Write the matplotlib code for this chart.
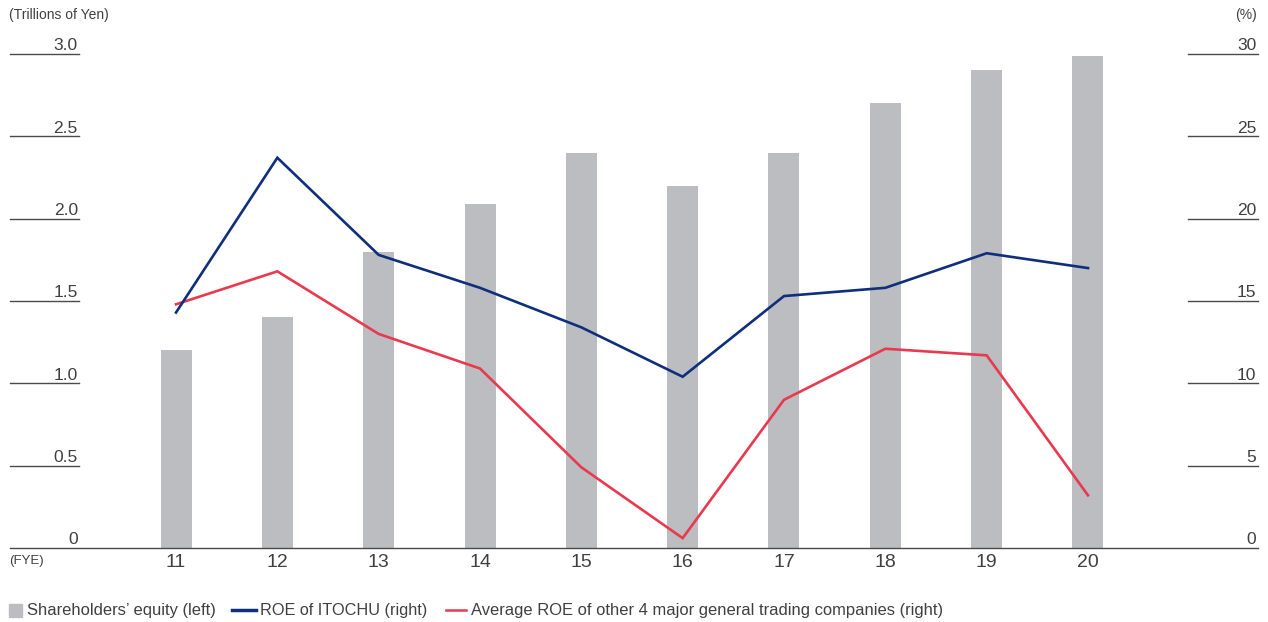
import matplotlib
matplotlib.use("Agg")
import matplotlib.pyplot as plt
from matplotlib.patches import Rectangle
from matplotlib.lines import Line2D

plt.rcParams['font.family'] = ['Liberation Sans', 'DejaVu Sans']

# ================= data =================
years = ["11", "12", "13", "14", "15", "16", "17", "18", "19", "20"]
equity = [1.20, 1.40, 1.80, 2.09, 2.40, 2.20, 2.40, 2.70, 2.90, 2.99]      # trillions of yen
roe_itochu = [14.3, 23.7, 17.8, 15.8, 13.4, 10.4, 15.3, 15.8, 17.9, 17.0]  # %
roe_others = [14.8, 16.8, 13.0, 10.9, 4.9, 0.6, 9.0, 12.1, 11.7, 3.2]      # %
left_ticks = [0, 0.5, 1.0, 1.5, 2.0, 2.5, 3.0]
left_labels = ["0", "0.5", "1.0", "1.5", "2.0", "2.5", "3.0"]
right_ticks = [0, 5, 10, 15, 20, 25, 30]
right_labels = ["0", "5", "10", "15", "20", "25", "30"]

# ================= style =================
W, H = 1268, 622
BAR_C = "#bcbdc1"
BLUE = "#0f2f7c"
RED = "#e8394f"
TXT = "#404040"
TICK_C = "#4a4a4a"


def fx(x):
    return x / W


def fy(y):
    return 1 - y / H


fig = plt.figure(figsize=(W / 100, H / 100), dpi=100)
ax = fig.add_axes([fx(10), fy(548), (1258 - 10) / W, (548 - 54) / H])
ax2 = ax.twinx()

xs = list(range(len(years)))
ax.bar(xs, equity, width=31 / 101.33, color=BAR_C, zorder=1)
ax2.plot(xs, roe_itochu, color=BLUE, lw=1.9, zorder=3, solid_joinstyle="miter")
ax2.plot(xs, roe_others, color=RED, lw=1.9, zorder=2, solid_joinstyle="miter")

ax.set_xlim(-166 / 101.33, 9 + 170 / 101.33)
ax.set_ylim(0, 3.0)
ax2.set_ylim(0, 30)
ax.set_zorder(0)
ax2.set_zorder(1)

for a in (ax, ax2):
    a.set_xticks([])
    a.set_yticks([])
    for s in a.spines.values():
        s.set_visible(False)
    a.patch.set_visible(False)

# baseline
ax.plot([0, 1], [0, 0], transform=ax.get_yaxis_transform(), color=TICK_C,
        lw=1.0, clip_on=False, zorder=4)

# left tick lines + labels
lx1 = (79 - 10) / 1248
for v, lab in zip(left_ticks, left_labels):
    if v > 0:
        ax.plot([0, lx1], [v, v], transform=ax.get_yaxis_transform(),
                color=TICK_C, lw=1.0, clip_on=False)
    ax.text(lx1 - 0.001, v + 0.004, lab, transform=ax.get_yaxis_transform(),
            ha="right", va="bottom", fontsize=12.5, color=TXT)

# right tick lines + labels
rx0 = (1188 - 10) / 1248
for v, lab in zip(right_ticks, right_labels):
    if v > 0:
        ax2.plot([rx0, 1], [v, v], transform=ax2.get_yaxis_transform(),
                 color=TICK_C, lw=1.0, clip_on=False)
    ax2.text(0.9985, v + 0.04, lab, transform=ax2.get_yaxis_transform(),
             ha="right", va="bottom", fontsize=12.5, color=TXT)

# x labels
for x, lab in zip(xs, years):
    ax.text(x, -0.012, lab, transform=ax.get_xaxis_transform(),
            ha="center", va="top", fontsize=14, color=TXT)

fig.text(fx(9), fy(15), "(Trillions of Yen)", ha="left", va="center",
         fontsize=10, color=TXT)
fig.text(fx(1257), fy(15), "(%)", ha="right", va="center",
         fontsize=10, color=TXT)
fig.text(fx(9), fy(561), "(FYE)", ha="left", va="center",
         fontsize=9.5, color=TXT)

# legend (drawn manually)
ly = 610
fig.patches.append(Rectangle((fx(9), fy(617)), 13 / W, 13 / H,
                             transform=fig.transFigure, color=BAR_C))
fig.text(fx(27), fy(ly), "Shareholders\u2019 equity (left)", ha="left",
         va="center", fontsize=11.9, color=TXT)
fig.lines.append(Line2D([fx(232), fx(256)], [fy(ly), fy(ly)],
                        transform=fig.transFigure, color=BLUE, lw=2.5))
fig.text(fx(260), fy(ly), "ROE of ITOCHU (right)", ha="left",
         va="center", fontsize=11.7, color=TXT)
fig.lines.append(Line2D([fx(446), fx(466)], [fy(ly), fy(ly)],
                        transform=fig.transFigure, color=RED, lw=1.8))
fig.text(fx(471), fy(ly), "Average ROE of other 4 major general trading companies (right)",
         ha="left", va="center", fontsize=11.9, color=TXT)

fig.savefig("out.png", dpi=100)
